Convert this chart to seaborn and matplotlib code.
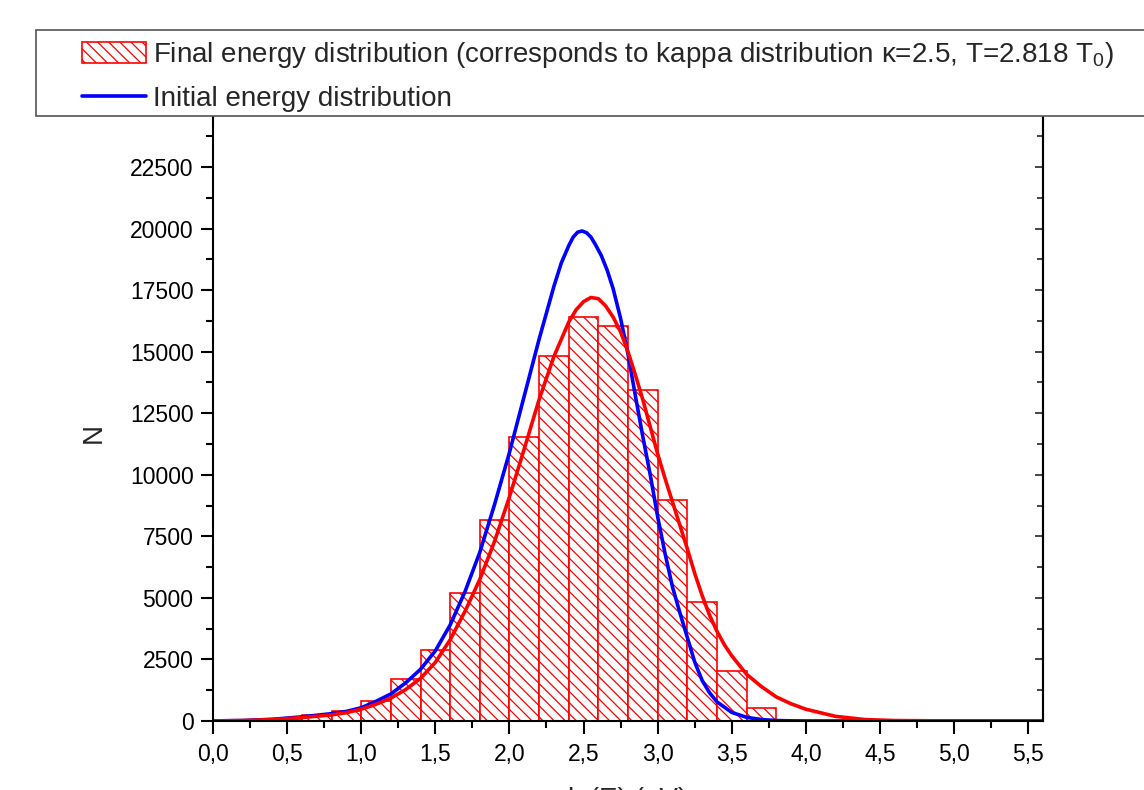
import matplotlib
matplotlib.use("Agg")
import numpy as np
import pandas as pd
import seaborn as sns
import matplotlib.pyplot as plt
from matplotlib.patches import Rectangle, Patch
from matplotlib.lines import Line2D
from matplotlib.ticker import MultipleLocator, FixedLocator

# ---------------- data ----------------
bin_edges = [0.0, 0.2, 0.4, 0.6, 0.8, 1.0, 1.2, 1.4, 1.6, 1.8, 2.0,
             2.2, 2.4, 2.6, 2.8, 3.0, 3.2, 3.4, 3.6, 3.8, 4.0]
bin_counts = [15, 40, 80, 230, 420, 825, 1700, 2900, 5210, 8150,
              11530, 14835, 16390, 16050, 13430, 8975, 4850, 2045, 515, 20]

initial_x = [0.0, 0.2, 0.4, 0.6, 0.8, 0.9, 1.0, 1.1, 1.2, 1.3, 1.4, 1.5, 1.6,
             1.7, 1.8, 1.9, 2.0, 2.1, 2.2, 2.3, 2.35, 2.4, 2.43, 2.46, 2.49,
             2.52, 2.55, 2.58, 2.62, 2.66, 2.7, 2.75, 2.8, 2.85, 2.9, 2.95,
             3.0, 3.05, 3.1, 3.15, 3.2, 3.25, 3.3, 3.35, 3.4, 3.5, 3.6, 3.7,
             3.8, 3.9, 4.0, 4.5, 5.6]
initial_n = [5, 20, 70, 170, 300, 390, 540, 800, 1100, 1550, 2100, 2850, 3900,
             5250, 6850, 8800, 10900, 13200, 15500, 17650, 18600, 19300,
             19650, 19850, 19900, 19830, 19650, 19350, 18900, 18300, 17550,
             16350, 14900, 13200, 11550, 10000, 8300, 6800, 5450, 4400, 3400,
             2400, 1650, 1150, 780, 350, 150, 60, 20, 8, 3, 0, 0]

final_x = [0.0, 0.2, 0.4, 0.6, 0.8, 0.9, 1.0, 1.1, 1.2, 1.3, 1.4, 1.5, 1.6,
           1.7, 1.8, 1.9, 2.0, 2.1, 2.2, 2.3, 2.4, 2.45, 2.5, 2.55, 2.6,
           2.65, 2.7, 2.75, 2.8, 2.85, 2.9, 2.95, 3.0, 3.05, 3.1, 3.15, 3.2,
           3.25, 3.3, 3.35, 3.4, 3.45, 3.5, 3.6, 3.7, 3.8, 3.9, 4.0, 4.2,
           4.4, 4.6, 5.0, 5.6]
final_n = [5, 20, 60, 140, 250, 340, 480, 680, 930, 1280, 1730, 2380, 3300,
           4450, 5750, 7300, 9100, 11050, 13050, 14800, 16200, 16700, 17030,
           17200, 17150, 16850, 16400, 15800, 15000, 14050, 13050, 11950,
           10850, 9850, 8900, 7950, 7000, 6000, 5100, 4300, 3650, 3100, 2650,
           1900, 1400, 980, 700, 480, 190, 60, 20, 3, 0]

x_tick_values = [0.0, 0.5, 1.0, 1.5, 2.0, 2.5, 3.0, 3.5, 4.0, 4.5, 5.0, 5.5]
x_tick_labels = ["0,0", "0,5", "1,0", "1,5", "2,0", "2,5", "3,0", "3,5",
                 "4,0", "4,5", "5,0", "5,5"]
y_tick_values = [0, 2500, 5000, 7500, 10000, 12500, 15000, 17500, 20000, 22500]

label_final = "Final energy distribution (corresponds to kappa distribution \u03ba=2.5, T=2.818 T$_0$)"
label_initial = "Initial energy distribution"

# ---------------- style ----------------
sns.set_theme(style="ticks")
plt.rcParams['font.family'] = ['Liberation Sans', 'DejaVu Sans']
plt.rcParams['mathtext.fontset'] = 'custom'
plt.rcParams['mathtext.rm'] = 'Liberation Sans'
plt.rcParams['mathtext.it'] = 'Liberation Sans:italic'
plt.rcParams['mathtext.bf'] = 'Liberation Sans:bold'
plt.rcParams['hatch.linewidth'] = 0.9
plt.rcParams['axes.linewidth'] = 1.5

HATCH = '\\\\\\'
RED = '#ff0000'
BLUE = '#0000ff'

fig = plt.figure(figsize=(11.44, 7.90), dpi=100)
ax = fig.add_axes([0.1862, 0.0873, 0.7255, 0.7793])

centers = [(a + b) / 2 for a, b in zip(bin_edges[:-1], bin_edges[1:])]
hist_df = pd.DataFrame({"lnE": centers, "N": bin_counts})
sns.histplot(data=hist_df, x="lnE", weights="N", bins=bin_edges,
             stat="count", ax=ax, color=RED, alpha=1)
for p in ax.patches:
    p.set_facecolor('white')
    p.set_edgecolor(RED)
    p.set_linewidth(1.2)
    p.set_hatch(HATCH)

sns.lineplot(x=initial_x, y=initial_n, color=BLUE, lw=2.6, ax=ax,
             estimator=None, sort=False)
sns.lineplot(x=final_x, y=final_n, color=RED, lw=2.6, ax=ax,
             estimator=None, sort=False)

ax.set_xlim(0, 5.6)
ax.set_ylim(0, 25000)
ax.xaxis.set_major_locator(FixedLocator(x_tick_values))
ax.set_xticklabels(x_tick_labels)
ax.xaxis.set_minor_locator(MultipleLocator(0.25))
ax.yaxis.set_major_locator(FixedLocator(y_tick_values))
ax.yaxis.set_minor_locator(MultipleLocator(1250))
ax.tick_params(axis='both', which='major', direction='out', length=9,
               width=1.5, labelsize=16.5, color='black', labelcolor='black')
ax.tick_params(axis='x', which='major', pad=7)
ax.tick_params(axis='y', which='major', pad=5)
ax.tick_params(axis='both', which='minor', direction='out', length=5,
               width=1.5, color='black')
for s in ax.spines.values():
    s.set_color('black')
    s.set_linewidth(1.5)

sec = ax.secondary_yaxis('right')
sec.yaxis.set_major_locator(FixedLocator(y_tick_values))
sec.yaxis.set_minor_locator(MultipleLocator(1250))
sec.tick_params(which='both', direction='in', labelright=False, width=1.2)
sec.tick_params(which='major', length=6)
sec.tick_params(which='minor', length=4)

ax.set_xlabel("ln(E) (eV)", fontsize=20, labelpad=15)
ax.set_ylabel("N", fontsize=20)
ax.yaxis.set_label_coords(-0.128, 0.468)

# legend box (extends past the right edge, overlaying the top of the axes)
fig.patches.append(Rectangle((36 / 1144, 1 - 116 / 790), 1.2, 86 / 790,
                             transform=fig.transFigure, facecolor='white',
                             edgecolor='#555555', linewidth=1.2, zorder=3))
handles = [Patch(facecolor='white', edgecolor=RED, hatch=HATCH, linewidth=1.2),
           Line2D([], [], color=BLUE, lw=2.6)]
fig.legend(handles, [label_final, label_initial], loc='upper left',
           bbox_to_anchor=(82 / 1144, 1 - 40 / 790), frameon=False,
           fontsize=20, handlelength=2.3, handleheight=0.8,
           handletextpad=0.25, labelspacing=0.57, borderpad=0,
           borderaxespad=0)

fig.savefig("out.png", dpi=100)
